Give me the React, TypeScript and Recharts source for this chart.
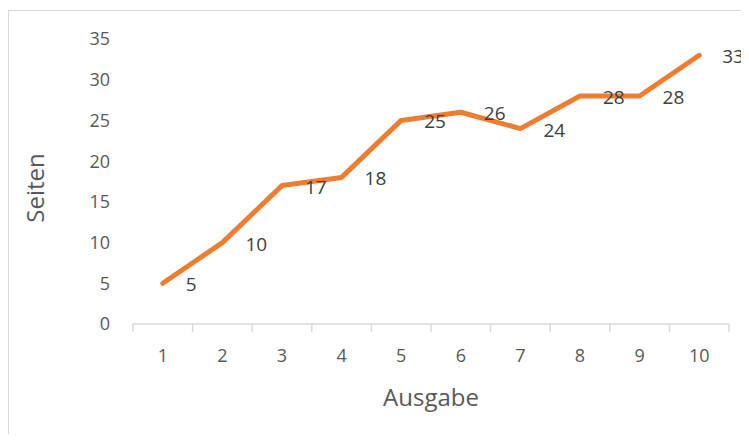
import { LineChart, Line, XAxis, YAxis, LabelList } from 'recharts'

const ausgaben = [1, 2, 3, 4, 5, 6, 7, 8, 9, 10]
const seiten = [5, 10, 17, 18, 25, 26, 24, 28, 28, 33]
const yTicks = [0, 5, 10, 15, 20, 25, 30, 35]

const data = ausgaben.map((a, i) => ({ ausgabe: a, seiten: seiten[i] }))

// chart spans the full page width (wrapper pulled back over the body margin)
const W = 749
const H = 426
const PLOT_LEFT = 133
const PLOT_RIGHT = 729
const HALF_BAND = (PLOT_RIGHT - PLOT_LEFT) / ausgaben.length / 2
const FONT = '"Open Sans", sans-serif'
const AXIS = '#d9d9d9'

function XTick(props: any) {
  const { x, y, payload, index } = props
  const last = index === ausgaben.length - 1
  return (
    <g>
      <line x1={x - HALF_BAND} x2={x - HALF_BAND} y1={y} y2={y + 8} stroke={AXIS} strokeWidth={1.5} />
      {last && <line x1={x + HALF_BAND} x2={x + HALF_BAND} y1={y} y2={y + 8} stroke={AXIS} strokeWidth={1.5} />}
      <text x={x} y={y + 31} textAnchor="middle" dominantBaseline="central" fill="#595959" fontSize={18} fontFamily={FONT}>
        {payload.value}
      </text>
    </g>
  )
}

function PointLabel(props: any) {
  const { x, y, value } = props
  return (
    <text x={x + 23} y={y + 1} dominantBaseline="central" fill="#404040" fontSize={19} fontFamily={FONT}>
      {value}
    </text>
  )
}

export default function App() {
  return (
    <div style={{ position: 'relative', width: W, height: H, marginLeft: -8 }}>
      <div
        style={{
          position: 'absolute',
          left: 8,
          top: 2,
          width: W - 8,
          height: H - 2,
          borderLeft: '1.5px solid #d9d9d9',
          borderTop: '1.5px solid #d9d9d9',
          boxSizing: 'border-box',
        }}
      />
      <div style={{ position: 'absolute', left: 0, top: 0 }}>
        <LineChart
          width={W}
          height={H}
          data={data}
          margin={{ top: 31, right: W - PLOT_RIGHT, bottom: 80, left: PLOT_LEFT - 60 }}
        >
          <XAxis
            dataKey="ausgabe"
            type="number"
            domain={[0.5, 10.5]}
            ticks={ausgaben}
            height={30}
            stroke={AXIS}
            strokeWidth={1.5}
            tickLine={false}
            tickSize={0}
            tickMargin={0}
            tick={<XTick />}
            interval={0}
            label={{
              content: () => (
                <text x={(PLOT_LEFT + PLOT_RIGHT) / 2} y={388} textAnchor="middle" dominantBaseline="central" fill="#595959" fontSize={24} fontFamily={FONT}>
                  Ausgabe
                </text>
              ),
            }}
          />
          <YAxis
            domain={[0, 35]}
            ticks={yTicks}
            width={60}
            axisLine={false}
            tickLine={false}
            tickSize={0}
            tickMargin={23}
            tick={{ fill: '#595959', fontSize: 18, fontFamily: FONT }}
            label={{
              content: () => (
                <text x={34} y={180} transform="rotate(-90 34 180)" textAnchor="middle" dominantBaseline="central" fill="#595959" fontSize={24} fontFamily={FONT}>
                  Seiten
                </text>
              ),
            }}
          />
          <Line
            dataKey="seiten"
            stroke="#ED7D31"
            strokeWidth={5}
            strokeLinecap="round"
            strokeLinejoin="round"
            dot={false}
            activeDot={false}
            isAnimationActive={false}
          >
            <LabelList dataKey="seiten" content={<PointLabel />} />
          </Line>
        </LineChart>
      </div>
    </div>
  )
}
